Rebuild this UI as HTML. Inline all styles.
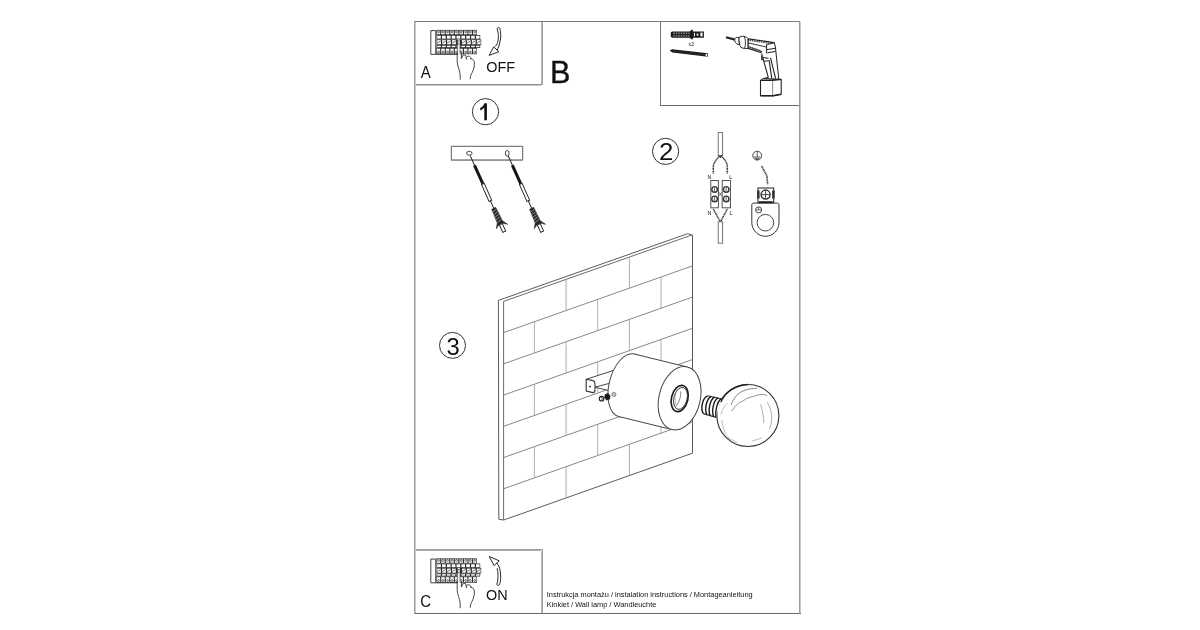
<!DOCTYPE html>
<html><head><meta charset="utf-8">
<style>
html,body{margin:0;padding:0;background:#fff;width:1200px;height:630px;overflow:hidden}
svg{position:absolute;left:0;top:0;will-change:transform}
text{font-family:"Liberation Sans",sans-serif;fill:#111}
</style></head>
<body>
<svg width="1200" height="630" viewBox="0 0 1200 630">
<defs>
<g id="panel">
<path d="M435.6 30.6H430.8V54.3H458" fill="none" stroke="#2a2a2a" stroke-width="0.9"/>
<path d="M435.7 30.4V54" stroke="#666" stroke-width="1.3"/>
<rect x="436.2" y="29.9" width="40.80" height="5.10" fill="#2b2b2b"/>
<rect x="436.6" y="35.0" width="43.60" height="4.40" fill="#2b2b2b"/>
<rect x="436.6" y="39.4" width="44.60" height="5.50" fill="#2b2b2b"/>
<rect x="436.6" y="44.9" width="43.60" height="3.10" fill="#2b2b2b"/>
<rect x="436.2" y="48.0" width="40.80" height="6.20" fill="#2b2b2b"/>
<rect x="436.75" y="30.60" width="3.43" height="3.70" fill="#fff"/>
<circle cx="438.47" cy="31.90" r="0.95" fill="none" stroke="#2b2b2b" stroke-width="0.7"/>
<rect x="441.28" y="30.60" width="3.43" height="3.70" fill="#fff"/>
<circle cx="443.00" cy="31.90" r="0.95" fill="none" stroke="#2b2b2b" stroke-width="0.7"/>
<rect x="445.82" y="30.60" width="3.43" height="3.70" fill="#fff"/>
<circle cx="447.53" cy="31.90" r="0.95" fill="none" stroke="#2b2b2b" stroke-width="0.7"/>
<rect x="450.35" y="30.60" width="3.43" height="3.70" fill="#fff"/>
<circle cx="452.07" cy="31.90" r="0.95" fill="none" stroke="#2b2b2b" stroke-width="0.7"/>
<rect x="454.88" y="30.60" width="3.43" height="3.70" fill="#fff"/>
<circle cx="456.60" cy="31.90" r="0.95" fill="none" stroke="#2b2b2b" stroke-width="0.7"/>
<rect x="459.42" y="30.60" width="3.43" height="3.70" fill="#fff"/>
<circle cx="461.13" cy="31.90" r="0.95" fill="none" stroke="#2b2b2b" stroke-width="0.7"/>
<rect x="463.95" y="30.60" width="3.43" height="3.70" fill="#fff"/>
<circle cx="465.67" cy="31.90" r="0.95" fill="none" stroke="#2b2b2b" stroke-width="0.7"/>
<rect x="468.48" y="30.60" width="3.43" height="3.70" fill="#fff"/>
<circle cx="470.20" cy="31.90" r="0.95" fill="none" stroke="#2b2b2b" stroke-width="0.7"/>
<rect x="473.02" y="30.60" width="3.43" height="3.70" fill="#fff"/>
<circle cx="474.73" cy="31.90" r="0.95" fill="none" stroke="#2b2b2b" stroke-width="0.7"/>
<rect x="437.20" y="35.75" width="3.64" height="2.90" fill="#fff"/>
<rect x="442.04" y="35.75" width="3.64" height="2.90" fill="#fff"/>
<rect x="446.89" y="35.75" width="3.64" height="2.90" fill="#fff"/>
<rect x="451.73" y="35.75" width="3.64" height="2.90" fill="#fff"/>
<rect x="456.58" y="35.75" width="3.64" height="2.90" fill="#fff"/>
<rect x="461.42" y="35.75" width="3.64" height="2.90" fill="#fff"/>
<rect x="466.27" y="35.75" width="3.64" height="2.90" fill="#fff"/>
<rect x="471.11" y="35.75" width="3.64" height="2.90" fill="#fff"/>
<rect x="475.96" y="35.75" width="3.64" height="2.90" fill="#fff"/>
<rect x="437.20" y="40.10" width="3.76" height="4.10" fill="#fff"/>
<path d="M437.40 43.00L440.76 41.00" stroke="#2b2b2b" stroke-width="0.7"/>
<rect x="442.16" y="40.10" width="3.76" height="4.10" fill="#fff"/>
<path d="M442.36 43.00L445.71 41.00" stroke="#2b2b2b" stroke-width="0.7"/>
<rect x="447.11" y="40.10" width="3.76" height="4.10" fill="#fff"/>
<path d="M447.31 43.00L450.67 41.00" stroke="#2b2b2b" stroke-width="0.7"/>
<rect x="452.07" y="40.10" width="3.76" height="4.10" fill="#fff"/>
<path d="M452.27 43.00L455.62 41.00" stroke="#2b2b2b" stroke-width="0.7"/>
<rect x="461.98" y="40.10" width="3.76" height="4.10" fill="#fff"/>
<path d="M462.18 43.00L465.53 41.00" stroke="#2b2b2b" stroke-width="0.7"/>
<rect x="466.93" y="40.10" width="3.76" height="4.10" fill="#fff"/>
<path d="M467.13 43.00L470.49 41.00" stroke="#2b2b2b" stroke-width="0.7"/>
<rect x="471.89" y="40.10" width="3.76" height="4.10" fill="#fff"/>
<path d="M472.09 43.00L475.44 41.00" stroke="#2b2b2b" stroke-width="0.7"/>
<rect x="476.84" y="40.10" width="3.76" height="4.10" fill="#fff"/>
<path d="M477.04 43.00L480.40 41.00" stroke="#2b2b2b" stroke-width="0.7"/>
<rect x="437.20" y="45.70" width="3.64" height="1.50" fill="#fff"/>
<rect x="442.04" y="45.70" width="3.64" height="1.50" fill="#fff"/>
<rect x="446.89" y="45.70" width="3.64" height="1.50" fill="#fff"/>
<rect x="451.73" y="45.70" width="3.64" height="1.50" fill="#fff"/>
<rect x="456.58" y="45.70" width="3.64" height="1.50" fill="#fff"/>
<rect x="461.42" y="45.70" width="3.64" height="1.50" fill="#fff"/>
<rect x="466.27" y="45.70" width="3.64" height="1.50" fill="#fff"/>
<rect x="471.11" y="45.70" width="3.64" height="1.50" fill="#fff"/>
<rect x="475.96" y="45.70" width="3.64" height="1.50" fill="#fff"/>
<rect x="436.75" y="48.70" width="3.43" height="4.80" fill="#fff"/>
<circle cx="438.47" cy="52.00" r="0.95" fill="none" stroke="#2b2b2b" stroke-width="0.7"/>
<rect x="441.28" y="48.70" width="3.43" height="4.80" fill="#fff"/>
<circle cx="443.00" cy="52.00" r="0.95" fill="none" stroke="#2b2b2b" stroke-width="0.7"/>
<rect x="445.82" y="48.70" width="3.43" height="4.80" fill="#fff"/>
<circle cx="447.53" cy="52.00" r="0.95" fill="none" stroke="#2b2b2b" stroke-width="0.7"/>
<rect x="450.35" y="48.70" width="3.43" height="4.80" fill="#fff"/>
<circle cx="452.07" cy="52.00" r="0.95" fill="none" stroke="#2b2b2b" stroke-width="0.7"/>
<rect x="454.88" y="48.70" width="3.43" height="4.80" fill="#fff"/>
<circle cx="456.60" cy="52.00" r="0.95" fill="none" stroke="#2b2b2b" stroke-width="0.7"/>
<rect x="459.42" y="48.70" width="3.43" height="4.80" fill="#fff"/>
<circle cx="461.13" cy="52.00" r="0.95" fill="none" stroke="#2b2b2b" stroke-width="0.7"/>
<rect x="463.95" y="48.70" width="3.43" height="4.80" fill="#fff"/>
<circle cx="465.67" cy="52.00" r="0.95" fill="none" stroke="#2b2b2b" stroke-width="0.7"/>
<rect x="468.48" y="48.70" width="3.43" height="4.80" fill="#fff"/>
<circle cx="470.20" cy="52.00" r="0.95" fill="none" stroke="#2b2b2b" stroke-width="0.7"/>
<rect x="473.02" y="48.70" width="3.43" height="4.80" fill="#fff"/>
<circle cx="474.73" cy="52.00" r="0.95" fill="none" stroke="#2b2b2b" stroke-width="0.7"/>
</g>
<g id="hand" fill="none" stroke="#333" stroke-width="0.9" stroke-linecap="round">
<path d="M457.2 53V62C457.4 66 459.6 70 460 73.5C460.3 76 460.2 78 460.2 79.3"/>
<path d="M461.5 53.3L461.3 58.6L463.2 54.8L465.6 55.2C466 56.5 466.4 58 466.6 59.2"/>
<path d="M466.2 57.6C467 56.3 468.5 55.8 469.6 56.4C470.6 57 471 58 471.2 58.6"/>
<path d="M470.6 58.8C472 58.6 473.6 59.5 474.2 61.8C474.8 65 474 69 472.2 72.5C471 74.5 470.2 77 470.2 78.8"/>
</g>
</defs>
<g fill="none" stroke-width="1" shape-rendering="crispEdges">
<path d="M414 21.5H800" stroke="#787878"/>
<path d="M414 613.5H801" stroke="#6a6a6a"/>
<path d="M414.5 21V614" stroke="#a4a4a4"/>
<path d="M415.5 22V613" stroke="#c8c8c8"/>
<path d="M799.5 21V614" stroke="#9a9a9a"/>
<path d="M800.5 22V613" stroke="#cacaca"/>
<path d="M416 84.5H543" stroke="#909090"/>
<path d="M416 85.5H541" stroke="#c4c4c4"/>
<path d="M541.5 22V84" stroke="#b8b8b8"/>
<path d="M542.5 22V85" stroke="#a4a4a4"/>
<path d="M660.5 22V106" stroke="#767676"/>
<path d="M661 105.5H799" stroke="#6a6a6a"/>
<path d="M416 549.5H543" stroke="#a2a2a2"/>
<path d="M416 550.5H541" stroke="#aaaaaa"/>
<path d="M541.5 551V613" stroke="#b8b8b8"/>
<path d="M542.5 550V613" stroke="#a4a4a4"/>
</g>
<!-- box A -->
<use href="#panel"/>
<rect x="457.6" y="39.4" width="2.4" height="15" fill="#fff"/><path d="M457.6 39.4V54.5M460 39.4V53" stroke="#333" stroke-width="0.6"/><circle cx="458.8" cy="41" r="0.6" fill="#222"/><circle cx="458.8" cy="43.8" r="0.6" fill="#222"/>
<use href="#hand"/>
<path d="M497.1 28.6C498.6 33 498.8 38 497.7 42.3C497 44.5 495.8 46 494.6 46.9M499.7 28C501 32 501.3 38 499.7 42.9C499 46 498 48.5 497.1 50.3M497.1 28.6C497.8 27.3 499.2 27.2 499.7 28M493.7 46.9L489.1 55.4L498.9 51.7Z" fill="none" stroke="#2a2a2a" stroke-width="1.0" stroke-linejoin="round"/>
<text transform="translate(420.7 78) scale(0.95 1)" font-size="15.8">A</text>
<text transform="translate(486.2 72.2) scale(0.93 1)" font-size="15.5">OFF</text>
<text x="550.0" y="82.8" font-size="30.6" stroke="#111" stroke-width="0.35">B</text>
<!-- box C -->
<g transform="translate(0 528.5)">
<use href="#panel"/>
<rect x="457.6" y="39.4" width="2.4" height="15" fill="#fff"/><path d="M457.6 39.4V54.5M460 39.4V53" stroke="#333" stroke-width="0.6"/><circle cx="458.8" cy="41" r="0.6" fill="#222"/><circle cx="458.8" cy="43.8" r="0.6" fill="#222"/>
<use href="#hand"/>
</g>
<path d="M497.1 568.3C498.3 572 498.6 579 496.8 584.6M496.8 562.9C499.2 565.5 500.6 570 500.7 576C500.8 580 500.2 583 499.2 584.9M496.8 584.6C497.5 585.6 498.6 585.6 499.2 584.9M494.1 565.6L489.2 556.5L499.2 560.8Z" fill="none" stroke="#2a2a2a" stroke-width="1.0" stroke-linejoin="round"/>
<text transform="translate(420.3 607) scale(0.95 1)" font-size="15.8">C</text>
<text transform="translate(486.0 600.1) scale(0.93 1)" font-size="15.5">ON</text>
<text x="546.8" y="597" font-size="7.4" fill="#262626">Instrukcja montażu / instalation instructions / Montageanleitung</text>
<text x="546.8" y="606.6" font-size="7.4" fill="#262626">Kinkiet / Wall lamp / Wandleuchte</text>
<!-- numbered circles -->
<g fill="none" stroke="#333" stroke-width="1">
<circle cx="485.5" cy="111.7" r="13.1"/>
<circle cx="665.6" cy="151.4" r="13.1"/>
<circle cx="452.5" cy="345.4" r="13.0"/>
</g>
<path d="M486.9 103.2V120.3H484.3V107.6C483.2 108.9 481.8 109.8 480.2 110.4V108C482 107.2 483.8 105.5 484.5 103.2Z" fill="#111"/>
<text x="0" y="0" font-size="23.5" text-anchor="middle" transform="translate(666.2 160.1) scale(1.1 1)">2</text>
<text x="453.2" y="354.5" font-size="23.8" text-anchor="middle">3</text>
<!-- step 1 bracket and screws -->
<g fill="none" stroke="#5e5e5e" stroke-width="1">
<path d="M451.3 146.3H522.7V160.2H451.3Z"/>
<path d="M451.8 160H522.3" stroke="#999" stroke-width="1.4"/>
<ellipse cx="469.3" cy="153.3" rx="2.8" ry="1.9" stroke-width="0.9" stroke="#333"/>
<ellipse cx="507.2" cy="153.3" rx="1.9" ry="2.8" stroke-width="0.9" stroke="#333"/>
</g>
<g id="screw1" transform="translate(469.2 153.4) rotate(65.9)" stroke="#222">
<line x1="2.6" y1="0" x2="13.3" y2="0" stroke-width="0.9"/>
<path d="M13.3 -1.5H33.5V1.5H13.3Z" fill="#161616" stroke="none"/>
<path d="M13.3 -1.6C13.3 -1.6 13 0 13.3 1.6" stroke-width="0.6"/>
<rect x="33.5" y="-1.5" width="18.4" height="3" fill="#fff" stroke-width="0.9"/>
<line x1="51.9" y1="0" x2="60.1" y2="0" stroke-width="0.9"/>
<path d="M60.1 -2.2L75 -2.8L80.5 -6.2L77.6 -2.4V2.4L79.8 6L75 2.8L60.1 2.2Z" fill="#2a2a2a" stroke="#222" stroke-width="0.5"/>
<path d="M62 -2.3L63.2 2.3M64.8 -2.4L66 2.4M67.6 -2.5L68.8 2.5M70.4 -2.6L71.6 2.6M73.2 -2.7L74.4 2.7" stroke="#bbb" stroke-width="0.6"/>
<rect x="77.6" y="-1.6" width="8.2" height="3.2" fill="#fff" stroke-width="0.9"/>
</g>
<use href="#screw1" transform="translate(37.9 0)"/>
<!-- step 2 connector -->
<g fill="none" stroke="#333" stroke-width="0.9">
<rect x="718.2" y="132.6" width="4.4" height="23" fill="#fff" stroke="#666"/>
<path d="M719.6 155.7C717 159 714 162 713.3 166V174.1M721.2 155.7C724 159 727 162 727.3 166V174.1" stroke="#333" stroke-width="1.5" stroke-dasharray="1.1 0.45"/>
<path d="M718.6 155.7L720.4 157.8L722.2 155.7" fill="#333"/>
<rect x="710.8" y="180.5" width="7.6" height="27.3" stroke-width="1" stroke="#555"/>
<rect x="722.2" y="180.5" width="8.3" height="27.3" stroke-width="1" stroke="#555"/>
<circle cx="714.6" cy="189.4" r="2.8" stroke-width="1.4"/><circle cx="726.2" cy="189.4" r="2.8" stroke-width="1.4"/>
<circle cx="714.6" cy="198.9" r="2.8" stroke-width="1.4"/><circle cx="726.2" cy="198.9" r="2.8" stroke-width="1.4"/>
<path d="M714.6 187.6V191.2M726.2 187.6V191.2M714.6 197.1V200.7M726.2 197.1V200.7" stroke-width="0.8"/>
<path d="M719 192.3L721.6 195.8M721.6 192.3L719 195.8" stroke-width="0.7"/>
<path d="M713.3 209L720.3 221.8M727.3 209L720.5 221.8" stroke="#333" stroke-width="1.5" stroke-dasharray="1.1 0.45"/>
<rect x="718.2" y="221.8" width="4.4" height="21.4" fill="#fff" stroke="#666"/>
</g>
<g font-size="5.4" fill="#333">
<text x="707.6" y="178.8">N</text><text x="729.2" y="178.8">L</text>
<text x="707.6" y="214.8">N</text><text x="729.6" y="214.8">L</text>
</g>
<!-- ground -->
<g fill="none" stroke="#333" stroke-width="0.9">
<circle cx="757.2" cy="155.6" r="4.4"/>
<path d="M757.2 151.6V157M754 157H760.4M755 158.4H759.4M756 159.6H758.4" stroke-width="0.8"/>
<path d="M761.6 166.1L766.9 175.9L767.6 184.2" stroke="#444" stroke-width="1.7" stroke-dasharray="1.1 0.45"/>
<path d="M751.8 205C751.8 203.6 752.6 203.1 754 203.1H776.8C778.2 203.1 779 203.6 779 205V222.5C779 230 773 236.3 765.4 236.3C757.8 236.3 751.8 230 751.8 222.5Z" fill="#fff" stroke-width="1"/>
<circle cx="765.4" cy="222.7" r="8.3"/>
<circle cx="758.6" cy="209.9" r="3"/>
<path d="M756 209.9H761.2M758.6 207.3V209.9" stroke-width="0.7"/>
<rect x="758" y="188" width="15.7" height="14.6" fill="#fff" stroke-width="1.1"/>
<rect x="757" y="190.5" width="2.6" height="8" fill="#333" stroke="none"/>
<rect x="772.1" y="190.5" width="2.6" height="8" fill="#333" stroke="none"/>
<rect x="759" y="201.2" width="13.6" height="1.9" fill="#222" stroke="none"/>
<circle cx="765.6" cy="194.6" r="4.5" stroke-width="1.5"/>
<path d="M765.6 191V198.2M762 194.6H769.2" stroke-width="0.9"/>
</g>
<!-- wall -->
<g fill="none" stroke="#5a5a5a" stroke-width="1">
<path d="M498.4 300.4L687.6 233.7L692.5 235.2V453.2L503.7 520L498.8 519.3Z" fill="#fff"/>
<path d="M503.6 301.4L692.3 234.9M503.6 301.4V519.8" stroke="#6a6a6a"/>
</g>
<g fill="none" stroke="#6a6a6a" stroke-width="0.8">
<line x1="503.6" y1="332.63" x2="692.5" y2="265.85"/>
<line x1="503.6" y1="363.86" x2="692.5" y2="297.08"/>
<line x1="503.6" y1="395.09" x2="692.5" y2="328.31"/>
<line x1="503.6" y1="426.32" x2="692.5" y2="359.54"/>
<line x1="503.6" y1="457.55" x2="692.5" y2="390.77"/>
<line x1="503.6" y1="488.78" x2="692.5" y2="422.00"/>
<line x1="566.1" y1="279.31" x2="566.1" y2="310.54" stroke="#999"/>
<line x1="629.4" y1="256.93" x2="629.4" y2="288.16" stroke="#999"/>
<line x1="534.4" y1="321.74" x2="534.4" y2="352.97" stroke="#999"/>
<line x1="597.7" y1="299.37" x2="597.7" y2="330.60" stroke="#999"/>
<line x1="661.0" y1="276.99" x2="661.0" y2="308.22" stroke="#999"/>
<line x1="566.1" y1="341.77" x2="566.1" y2="373.00" stroke="#999"/>
<line x1="629.4" y1="319.39" x2="629.4" y2="350.62" stroke="#999"/>
<line x1="534.4" y1="384.20" x2="534.4" y2="415.43" stroke="#999"/>
<line x1="597.7" y1="361.83" x2="597.7" y2="393.06" stroke="#999"/>
<line x1="661.0" y1="339.45" x2="661.0" y2="370.68" stroke="#999"/>
<line x1="566.1" y1="404.23" x2="566.1" y2="435.46" stroke="#999"/>
<line x1="629.4" y1="381.85" x2="629.4" y2="413.08" stroke="#999"/>
<line x1="534.4" y1="446.66" x2="534.4" y2="477.89" stroke="#999"/>
<line x1="597.7" y1="424.29" x2="597.7" y2="455.52" stroke="#999"/>
<line x1="661.0" y1="401.91" x2="661.0" y2="433.14" stroke="#999"/>
<line x1="566.1" y1="466.69" x2="566.1" y2="497.92" stroke="#999"/>
<line x1="629.4" y1="444.31" x2="629.4" y2="475.54" stroke="#999"/>
</g>
<!-- bracket behind lamp -->
<g fill="none" stroke="#333" stroke-width="1">
<path d="M586.2 379.3L613.5 370.4L608.1 390.4L594.8 387.2Z" fill="#fff" stroke="none"/><path d="M586.2 379.3L613.5 370.4M594.8 387.2L609.1 383.4M594.8 387.2L608.1 390.4" stroke-width="0.9"/>
<path d="M586.2 379.3V391L593 392.6C594.6 392.6 595 391.6 595 390V384.5C595 381.8 593.8 380.6 592 380.4Z" fill="#fff" stroke-width="1.1"/>
<circle cx="590.1" cy="386.6" r="0.9" fill="#111" stroke="none"/>
</g>
<!-- lamp -->
<g fill="none" stroke="#444" stroke-width="1">
<ellipse cx="626.60" cy="385.30" rx="17.5" ry="32.2" transform="rotate(14.0 626.60 385.30)" fill="#fff"/>
<polygon points="634.39,354.06 687.39,367.06 671.81,429.54 618.81,416.54" fill="#fff" stroke="none"/>
<line x1="634.39" y1="354.06" x2="687.39" y2="367.06"/>
<line x1="618.81" y1="416.54" x2="671.81" y2="429.54"/>
<ellipse cx="679.6" cy="398.3" rx="20.6" ry="32.2" transform="rotate(14.0 679.6 398.3)" fill="#fff"/>
<ellipse cx="679.7" cy="398.5" rx="8.2" ry="13.4" transform="rotate(14 679.7 398.5)" stroke-width="1.6" stroke="#1a1a1a"/>
<ellipse cx="680.5" cy="398.4" rx="6.6" ry="11.2" transform="rotate(14 680.5 398.4)" stroke-width="0.9" stroke="#333"/>
<path d="M680.6 391.5C681.2 396 679.5 402 675.6 406.5" stroke-width="0.7" stroke="#555"/>
<path d="M677.3 389.5C675 393 674.4 400 676 405" stroke-width="0.5" stroke="#888"/>
</g>
<!-- screws near lamp -->
<g stroke="#222" stroke-width="0.9">
<circle cx="601.6" cy="398.7" r="2.3" fill="#fff" stroke-width="1.1"/>
<path d="M601 397C602.6 397.4 602.8 400 601.2 400.4" fill="none" stroke-width="0.9"/>
<path d="M605.2 394.6L608.2 393.6L610 395.8L609.6 399L606.6 400L604.8 397.8Z" fill="#141414"/>
<circle cx="613.9" cy="394.5" r="2" fill="#fff" stroke="#555" stroke-width="0.8"/>
<circle cx="613.9" cy="394.5" r="0.8" fill="none" stroke="#777" stroke-width="0.5"/>
</g>
<!-- bulb -->
<g fill="none" stroke="#333" stroke-width="1">
<circle cx="747.9" cy="415.5" r="31" fill="#fff" stroke-width="1.1"/>
<path d="M721 402C725 392 736 385 748 384.5" stroke="#222" stroke-width="1.4"/>
<path d="M707.7 395.8L721.3 398.7L716 417.4L703.3 413.6Z" fill="#fff" stroke="none"/>
<path d="M707.7 395.8L721.3 398.7M703.3 413.6L716 417.4" stroke-width="1.1"/>
<path d="M707.7 395.8C702 398 700.5 409 703.3 413.6M711.2 396.5C706 399 704.5 410 706.8 414.6M714.6 397.2C709.5 400 708 411 710.2 415.6M718 397.9C713 401 711.5 412 713.6 416.6M721.3 398.7C716.5 402 715 413 716 417.4" stroke="#1a1a1a" stroke-width="1.4"/>
<path d="M731.1 405C733 399 737 394 742 391.5C747 389 752 388.4 757.2 388.3" stroke="#666" stroke-width="0.8"/>
<path d="M731.7 411.1C735 406 739 402 742.8 401.1C746 398.5 750 396.8 752.8 396.7C757 395 761 394.2 763.9 394.4L767.2 395.6" stroke="#777" stroke-width="0.8"/>
<path d="M760.6 404.4C762.5 410 763.6 417 763.9 423.3M767.2 402.2C770 407 771.5 412 771.7 416.7C771.8 421 771 425.5 769.4 428.9" stroke="#999" stroke-width="0.8"/>
<path d="M721.1 414.4C722 410 724 406.5 727.2 403.3M721.7 420C722.5 426 724 431 726.1 434.4M726.1 435.6C730 439 734 441.5 737.2 442.2M752 441C756 440 759 439 761.7 437.8" stroke="#aaa" stroke-width="0.8"/>
</g>
<!-- tools box -->
<g>
<path d="M670.8 32.2C671.2 31.5 672 31.4 673 31.4H689.5L692.2 29.2L693.2 31.4H703.9V37.8H693.2L692.2 39.7L689.5 37.8H673C672 37.8 671.2 37.6 670.8 37Z" fill="#1a1a1a"/>
<path d="M673.2 33.2H689.6M673.2 35.9H689.6" stroke="#fff" stroke-width="0.7" stroke-dasharray="1.6 0.9"/>
<rect x="693.9" y="32.8" width="1" height="3.6" fill="#fff"/>
<rect x="696.4" y="33.3" width="2.2" height="2.6" fill="#fff" stroke="#1a1a1a" stroke-width="0.5"/>
<rect x="700.4" y="32.6" width="2.2" height="3.8" fill="#fff"/>
<text x="688.6" y="46.4" font-size="5.2" fill="#444">x2</text>
<path d="M669.6 50.5L672.2 49.3L707.8 53.2V56.8L672.4 52.6Z" fill="#1a1a1a"/>
<path d="M673 51L706 54.9" stroke="#666" stroke-width="0.5" stroke-dasharray="1 1"/>
<rect x="705.6" y="53.9" width="1.5" height="2.4" fill="#fff"/>
</g>
<!-- drill -->
<g fill="none" stroke="#222" stroke-width="1" stroke-linejoin="round">
<path d="M726 37.3L735 39.6" stroke-width="2.2"/>
<path d="M734.8 38.6C735.6 37.3 737.5 37 739 37.6L739.3 44.6C737.6 44.8 735.6 43.4 734.8 41.4Z" fill="#fff"/>
<path d="M739 37.6C740 36.4 742 36 744 36.4C746 36.9 747.6 37.8 748.2 38.9V48.4C746.5 48.9 743 48.6 740.8 47.2C739.4 45.5 738.8 40.5 739 37.6Z" fill="#fff"/>
<path d="M744.2 36.6C745.6 38.5 746 44.5 744.6 48.2" stroke-width="0.9"/>
<path d="M748.2 38.9L774.3 42.7L778.8 79.1L768.3 77.3L761.6 54.1L748.2 48.4Z" fill="#fff" stroke="none"/>
<path d="M748.2 38.9L774.3 42.7M748.2 38.9V48.4L761.6 52.8" stroke-width="1.2"/>
<path d="M749.5 40.4L772 43.6" stroke="#444" stroke-width="1.3" stroke-dasharray="1.5 0.8"/>
<path d="M748.9 43L766.6 47.1M748.9 47L762 51.6" stroke-width="0.9"/>
<path d="M749.5 46.8L761 50.8" stroke="#444" stroke-width="1.3" stroke-dasharray="1.5 0.8"/>
<path d="M766.6 44.6V53.2M766.6 44.6L774.3 42.7M767 49.6L775 48.3M767.4 52.8L775.6 51.4" stroke-width="1"/>
<path d="M774.3 42.7L775.4 47L778.8 79.3"/>
<path d="M761.6 53.6L768.3 77.4M770.5 57.9L775.6 78.4M769.2 60.6L771.8 78.6M762.2 57.5L768.5 58.2M763.6 61.2L770 60.8" stroke-width="1.1"/>
<rect x="761" y="55.8" width="2.2" height="4.4" fill="#444" stroke="none"/>
<path d="M760.5 80.4L763.3 78.6L768.3 77.4" fill="#fff"/>
<path d="M760.5 80.4H773.1V95.8H760.5Z" fill="#fff" stroke-width="1.1"/>
<path d="M773.1 80.4L781.2 79.4V94.2L773.1 95.8M763.3 78.6L781.2 79.4" fill="#fff" stroke-width="1.1"/>
<path d="M760.5 95.8H773.1L781.2 94.2" stroke-width="1.6"/>
</g>
</svg>
</body></html>
